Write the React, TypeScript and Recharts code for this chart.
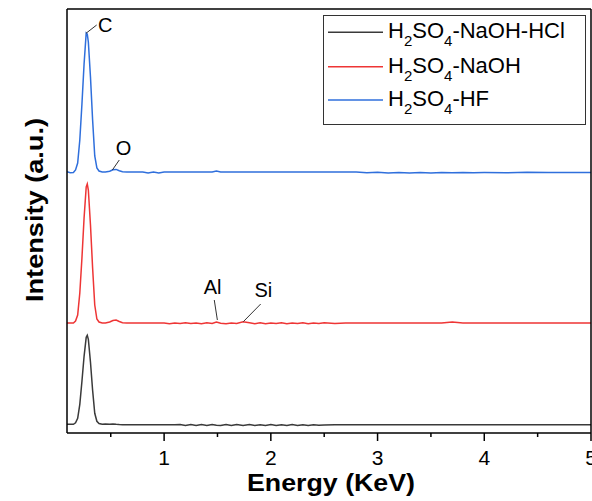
import { LineChart, Line, XAxis, YAxis, ReferenceLine, ReferenceDot } from 'recharts';

const FONT = '"Liberation Sans", Arial, sans-serif';

// energy grid (keV), denser around the C peak
const ENERGY = [
  0.09, 0.12, 0.15, 0.17, 0.19, 0.21, 0.23, 0.25, 0.27, 0.28,
  0.29, 0.31, 0.33, 0.35, 0.37, 0.39, 0.42, 0.45, 0.49, 0.52,
  0.55, 0.58, 0.61, 0.65, 0.70, 0.75, 0.80, 0.85, 0.90, 0.95,
  1.00, 1.05, 1.10, 1.15, 1.20, 1.25, 1.30, 1.35, 1.40, 1.45,
  1.49, 1.53, 1.58, 1.63, 1.68, 1.74, 1.80, 1.85, 1.90, 1.95,
  2.00, 2.05, 2.10, 2.15, 2.20, 2.25, 2.30, 2.35, 2.40, 2.45,
  2.50, 2.60, 2.70, 2.80, 2.90, 3.00, 3.10, 3.20, 3.30, 3.40,
  3.50, 3.60, 3.70, 3.80, 3.90, 4.00, 4.20, 4.40, 4.60, 4.80,
  5.00,
];

const BLACK_SIGNAL = [
  0, 0, 0, 1.5, 6, 20, 43, 68, 87, 89,
  85, 62, 34, 11, 3, 0.7, 0, 0.4, 0, 0.4,
  0, -0.3, -0.4, -0.4, -0.4, -0.4, -0.4, -0.4, -0.4, -0.4,
  -0.4, -0.4, -0.4, -0.2, -1.1, -0.2, -1.2, -0.3, -1.1, -0.2,
  -1, -1.2, -0.3, -1.1, -0.2, -1.1, -0.3, -1.2, -0.4, -1.1,
  -0.2, -1.1, -0.4, -1.2, -0.3, -1.1, -0.4, -1.1, -0.5, -1,
  -0.6, -0.4, -0.4, -0.4, -0.4, -0.4, -0.4, -0.4, -0.4, -0.4,
  -0.4, -0.4, -0.4, -0.4, -0.4, -0.4, -0.4, -0.4, -0.4, -0.4,
  -0.4,
];

const RED_SIGNAL = [
  0, 0, 0, 2, 8, 30, 65, 105, 136, 139,
  133, 98, 55, 18, 4, 1, 0, 0, 1, 2.5,
  3, 1.5, 0.3, 0, 0, 0, 0, 0, 0, 0,
  0, -0.7, 0, -0.5, 0.3, -0.6, 0, -0.7, 0.2, -0.5,
  1, -0.3, -0.7, 0, -0.5, 1.3, 0.2, -0.7, 0.3, -0.8,
  0, -0.6, 0.2, -0.8, 0, -0.5, 0.3, -0.7, 0, -0.6,
  0.2, -0.5, 0, 0, 0, 0, 0, 0, 0, 0,
  0, 0, 1, 0, 0, 0, 0, 0, 0, 0,
  0,
];

const BLUE_SIGNAL = [
  0.3, -0.7, -0.5, 2, 9, 32, 68, 108, 139, 138,
  130, 95, 52, 16, 4, 1, 0, 0, 0.8, 2.3,
  2.6, 1.2, 0.2, 0, 0, 0, 0, -0.9, 0, -0.9,
  0, 0, 0, 0, 0, 0, 0, 0, 0, 0,
  1, 0, 0, 0, 0, 0, 0, 0, 0, 0,
  0, 0, 0, 0, 0, 0, 0, 0, 0, 0,
  0, 0, 0, 0, -0.8, -0.3, -1, -0.4, -1, -0.5,
  -0.9, -0.4, -0.8, -0.5, -0.7, -0.6, -0.8, -0.3, -0.6, -0.6,
  -0.6,
];

// vertical stacking offsets of the three spectra
const OFFSET_BLACK = 8.7;
const OFFSET_RED = 110;
const OFFSET_BLUE = 261;

const SERIES_NAMES = ['H2SO4-NaOH-HCl', 'H2SO4-NaOH', 'H2SO4-HF'];
const X_TICKS = [0.5, 1, 1.5, 2, 2.5, 3, 3.5, 4, 4.5, 5];

// peak labels: leader line start/end and text anchor, in data units
const PEAK_LABELS = [
  { label: 'C', from: [0.268, 399.7], to: [0.368, 408], at: [0.449, 401.3] },
  { label: 'O', from: [0.515, 263], to: [0.58, 273], at: [0.62, 278] },
  { label: 'Al', from: [1.47, 133], to: [1.499, 113], at: [1.454, 138.7] },
  { label: 'Si', from: [1.905, 129], to: [1.742, 111.3], at: [1.93, 135.7] },
];

const data = ENERGY.map((e, i) => ({
  e,
  black: OFFSET_BLACK + BLACK_SIGNAL[i],
  red: OFFSET_RED + RED_SIGNAL[i],
  blue: OFFSET_BLUE + BLUE_SIGNAL[i],
}));

const COLORS = ['#3a3a3a', '#ee3535', '#2f6fdc'];

function EnergyTick({ x, y, payload }: any) {
  const major = Number.isInteger(payload.value);
  return (
    <g>
      <line x1={x} x2={x} y1={y} y2={y + (major ? 8 : 4)} stroke="#000" strokeWidth={1.5} />
      {major && (
        <text x={x} y={y + 32} textAnchor="middle" fontSize={21} fontFamily={FONT} fill="#000">
          {payload.value}
        </text>
      )}
    </g>
  );
}

function Formula({ text, x, y }: { text: string; x: number; y: number }) {
  const parts = text.split(/(\d)/).filter(Boolean);
  let shifted = false;
  return (
    <text x={x} y={y} fontFamily={FONT} fontSize={22} fill="#000">
      {parts.map((p, i) => {
        const sub = /^\d$/.test(p);
        const dy = sub ? (shifted ? 0 : 8) : shifted ? -8 : 0;
        shifted = sub;
        return (
          <tspan key={i} dy={dy} fontSize={sub ? 15 : 22}>
            {p}
          </tspan>
        );
      })}
    </text>
  );
}

export default function App() {
  const legendRows = [32.3, 66.7, 100];
  const frame = { stroke: '#000', strokeWidth: 1.5 };

  return (
    <div style={{ position: 'absolute', left: 0, top: 0, width: 592, height: 501, background: '#fff' }}>
      <LineChart width={592} height={501} data={data} margin={{ top: 8, right: 0, bottom: 28, left: 66 }}>
        <XAxis
          dataKey="e"
          type="number"
          domain={[0.09, 5]}
          allowDataOverflow
          ticks={X_TICKS}
          interval={0}
          tickSize={0}
          tickMargin={0}
          tickLine={false}
          tick={<EnergyTick />}
          height={40}
          axisLine={frame}
        />
        <XAxis xAxisId="top" orientation="top" type="number" domain={[0.09, 5]} tick={false} tickLine={false} height={1} axisLine={frame} />
        <YAxis type="number" domain={[0, 424]} allowDataOverflow width={1} tick={false} tickLine={false} axisLine={frame} />
        <YAxis yAxisId="right" orientation="right" domain={[0, 424]} width={1} tick={false} tickLine={false} axisLine={frame} />

        <Line dataKey="black" type="linear" stroke={COLORS[0]} strokeWidth={1.5} dot={false} isAnimationActive={false} />
        <Line dataKey="red" type="linear" stroke={COLORS[1]} strokeWidth={1.5} dot={false} isAnimationActive={false} />
        <Line dataKey="blue" type="linear" stroke={COLORS[2]} strokeWidth={1.5} dot={false} isAnimationActive={false} />

        {PEAK_LABELS.map((p) => (
          <ReferenceLine
            key={`l-${p.label}`}
            segment={[{ x: p.from[0], y: p.from[1] }, { x: p.to[0], y: p.to[1] }]}
            stroke="#333"
            strokeWidth={1}
          />
        ))}
        {PEAK_LABELS.map((p) => (
          <ReferenceDot
            key={`t-${p.label}`}
            x={p.at[0]}
            y={p.at[1]}
            r={1}
            shape={(props: any) => (
              <text x={props.cx} y={props.cy} textAnchor="middle" fontFamily={FONT} fontSize={20} fill="#000">
                {p.label}
              </text>
            )}
          />
        ))}
      </LineChart>

      <svg width={592} height={501} style={{ position: 'absolute', left: 0, top: 0, pointerEvents: 'none' }}>
        <text
          x={331}
          y={491}
          textAnchor="middle"
          fontFamily={FONT}
          fontWeight="bold"
          fontSize={24}
          textLength={168}
          lengthAdjust="spacingAndGlyphs"
          fill="#000"
        >
          Energy (KeV)
        </text>
        <text
          x={43}
          y={210}
          transform="rotate(-90 43 210)"
          textAnchor="middle"
          fontFamily={FONT}
          fontWeight="bold"
          fontSize={24}
          textLength={184}
          lengthAdjust="spacingAndGlyphs"
          fill="#000"
        >
          Intensity (a.u.)
        </text>
        <rect x={323.5} y={15.5} width={262} height={109} fill="#fff" stroke="#333" strokeWidth={1} />
        {SERIES_NAMES.map((name, i) => (
          <g key={name}>
            <line x1={328} x2={383} y1={legendRows[i]} y2={legendRows[i]} stroke={COLORS[i]} strokeWidth={1.5} />
            <Formula text={name} x={388} y={legendRows[i] + 6} />
          </g>
        ))}
      </svg>
    </div>
  );
}
